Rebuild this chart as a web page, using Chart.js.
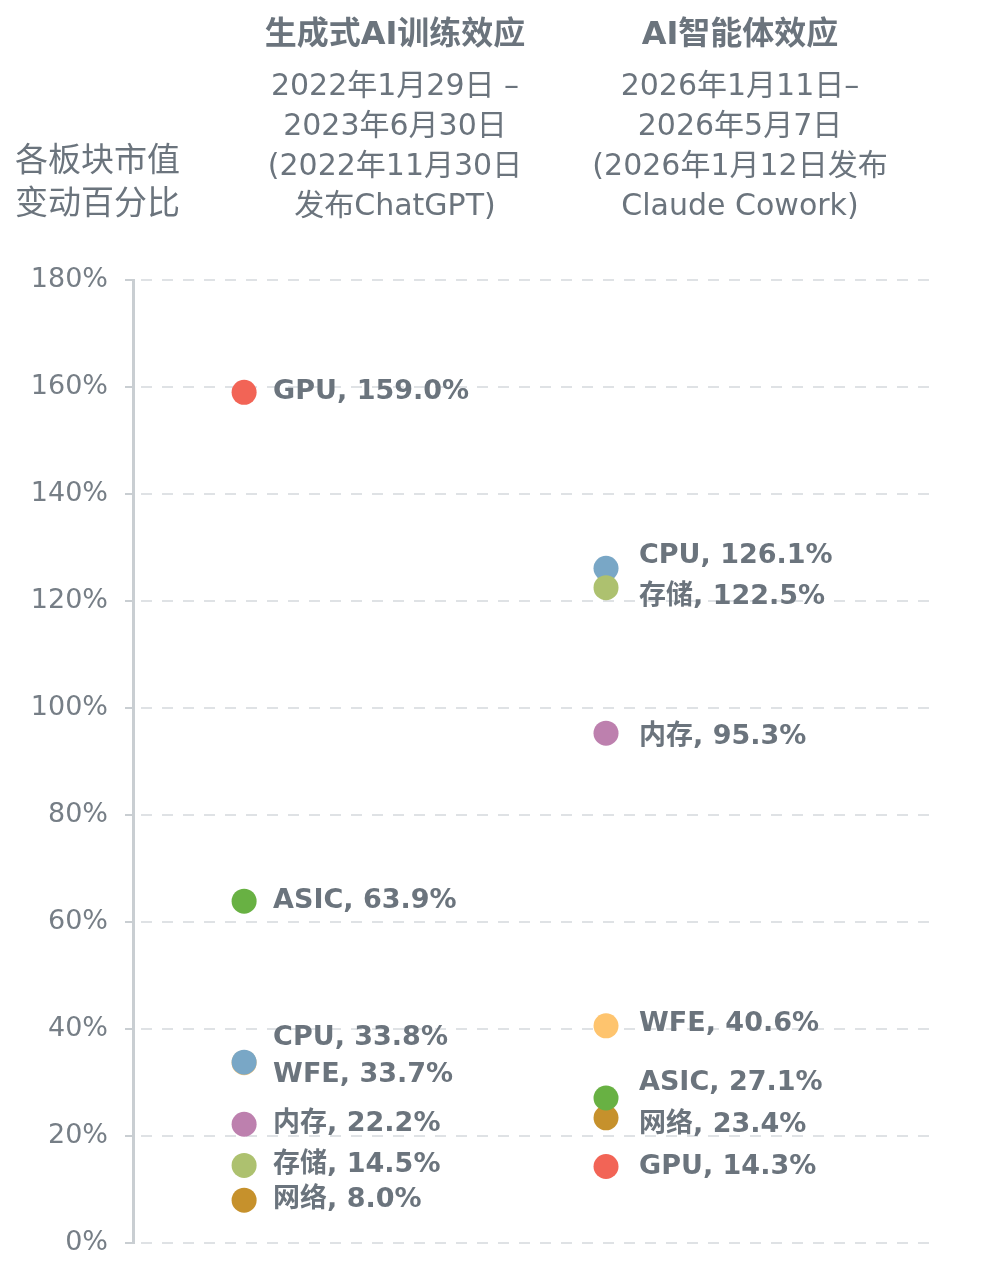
<!DOCTYPE html>
<html>
<head>
<meta charset="utf-8">
<script src="https://cdn.jsdelivr.net/npm/chart.js@4"></script>
<style>
  body { margin: 0; background: #fff; }
  #wrap { position: relative; width: 984px; height: 1272px; }
  .txt {
    position: absolute;
    color: #6b747d;
    font-family: "DejaVu Sans", "Noto Sans CJK SC", sans-serif;
    white-space: pre;
  }
  .head { font-size: 30px; line-height: 40px; text-align: center; width: 400px; }
  .title { font-weight: bold; font-size: 32px; }
</style>
</head>
<body>
<div id="wrap">
  <canvas id="chart"></canvas>
  <div class="txt" style="left:15px; top:138px; font-size:33px; line-height:43px;">各板块市值
变动百分比</div>
  <div class="txt head title" style="left:195px; top:13px;">生成式AI训练效应</div>
  <div class="txt head" style="left:195px; top:65px;">2022年1月29日 –
2023年6月30日
(2022年11月30日
发布ChatGPT)</div>
  <div class="txt head title" style="left:540px; top:13px;">AI智能体效应</div>
  <div class="txt head" style="left:540px; top:65px;">2026年1月11日–
2026年5月7日
(2026年1月12日发布
Claude Cowork)</div>
</div>
<script>
// 板块 (drawing order: first one ends up on top)
const sectors = ["存储", "CPU", "WFE", "ASIC", "网络", "内存", "GPU"];
const trainingPct = [14.5, 33.8, 33.7, 63.9, 8.0, 22.2, 159.0];
const agentPct = [122.5, 126.1, 40.6, 27.1, 23.4, 95.3, 14.3];
const sectorColors = ["#adc16f", "#79a7c6", "#fec46e", "#68b143", "#c6912c", "#bd80ae", "#f26456"];
const yTicks = [0, 20, 40, 60, 80, 100, 120, 140, 160, 180];

// label nudges in px so close labels don't collide
const trainingNudge = [0, -24, 12, 0, 0, 0, 0];
const agentNudge = [9, -12, -2, -15, 7, 4, 0];

const textColor = "#6b747d";

const pointLabels = {
  id: "pointLabels",
  afterDatasetsDraw(chart) {
    const ctx = chart.ctx;
    ctx.save();
    ctx.font = 'bold 27px "DejaVu Sans", "Noto Sans CJK SC", sans-serif';
    ctx.fillStyle = textColor;
    ctx.textBaseline = "middle";
    ctx.textAlign = "left";
    chart.data.datasets.forEach((ds, i) => {
      const meta = chart.getDatasetMeta(i);
      meta.data.forEach((pt, j) => {
        const nudge = j === 0 ? trainingNudge[i] : agentNudge[i];
        const dx = j === 0 ? 29 : 33;
        const text = `${sectors[i]}, ${ds.data[j].y.toFixed(1)}%`;
        ctx.fillText(text, pt.x + dx, pt.y + nudge);
      });
    });
    ctx.restore();
  },
};

const datasets = sectors.map((name, i) => ({
  label: name,
  data: [
    { x: 1, y: trainingPct[i] },
    { x: 2, y: agentPct[i] },
  ],
  backgroundColor: sectorColors[i],
  borderWidth: 0,
  pointRadius: 12.5,
  pointHoverRadius: 12.5,
}));

const canvas = document.getElementById("chart");
canvas.width = 984;
canvas.height = 1272;

new Chart(canvas, {
  type: "scatter",
  data: { datasets },
  options: {
    responsive: false,
    animation: false,
    layout: { padding: { top: 280, bottom: 29, left: 0, right: 49 } },
    plugins: {
      legend: { display: false },
      tooltip: { enabled: false },
    },
    scales: {
      x: {
        type: "linear",
        min: 0.693,
        max: 2.909,
        display: false,
      },
      y: {
        min: 0,
        max: 180,
        afterFit: (scale) => { scale.width = 133; },
        afterBuildTicks: (scale) => { scale.ticks = yTicks.map((v) => ({ value: v })); },
        ticks: {
          color: "#767e86",
          padding: 17,
          font: { family: '"DejaVu Sans", sans-serif', size: 27, lineHeight: 0.4 },
          callback: (v) => v + "%",
        },
        grid: {
          color: "#dfe2e5",
          lineWidth: 2,
          tickLength: 8,
          tickColor: "#c9ced2",
          tickWidth: 2,
          tickBorderDash: [1, 0],
        },
        border: { display: true, color: "#c9ced2", width: 3, dash: [11, 10], dashOffset: -6 },
      },
    },
  },
  plugins: [pointLabels],
});
</script>
</body>
</html>
